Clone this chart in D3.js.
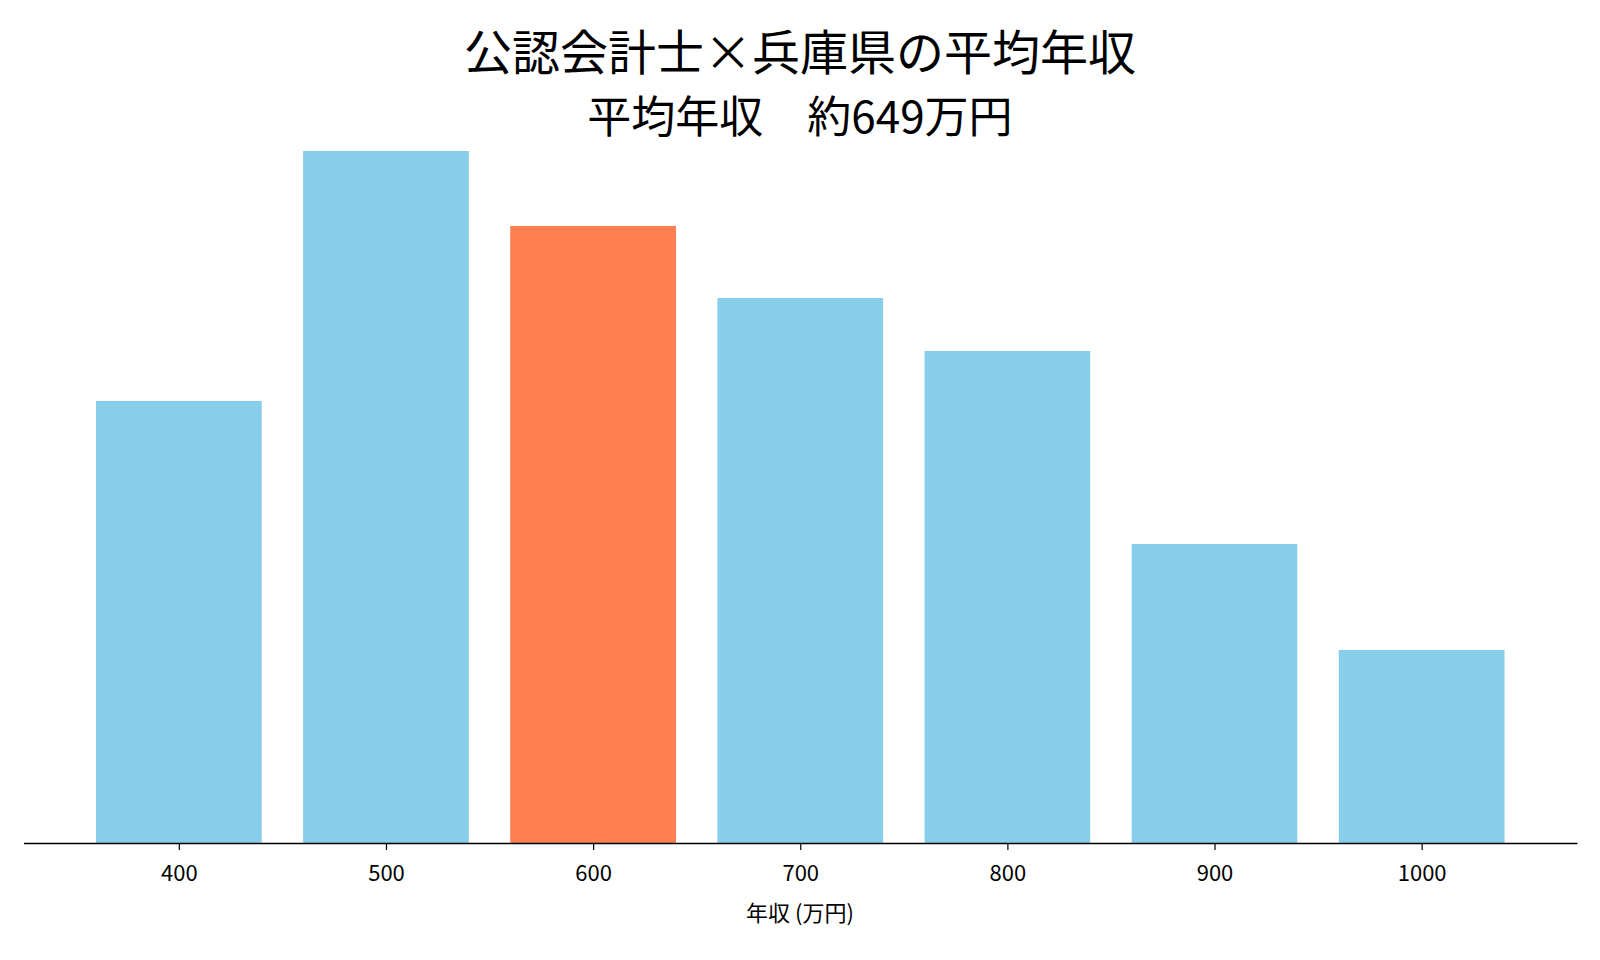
<!DOCTYPE html>
<html><head><meta charset="utf-8">
<script src="https://cdn.jsdelivr.net/npm/d3@7"></script>
<style>body{margin:0;background:#fff;font-family:"Noto Sans CJK JP","Noto Sans",sans-serif;}</style>
</head><body>
<svg id="chart" width="1600" height="960"></svg>
<script>
var incomes = [400, 500, 600, 700, 800, 900, 1000];
var counts = [442, 692, 617, 545, 492, 299, 193];
var highlight = 600;
var titleText = "公認会計士×兵庫県の平均年収";
var subtitleText = "平均年収　約649万円";

var svg = d3.select("#chart");
var x = d3.scaleLinear().domain([325, 1075]).range([23.5, 1577]);
var y = d3.scaleLinear().domain([0, 692]).range([843, 151]);
var barW = (x(500) - x(400)) * 0.8;

svg.selectAll("rect.bar")
    .data(incomes)
    .enter()
    .append("rect")
    .attr("class", "bar")
    .attr("x", function(d) { return x(d) - barW / 2; })
    .attr("width", barW)
    .attr("y", function(d, i) { return y(counts[i]); })
    .attr("height", function(d, i) { return y(0) - y(counts[i]); })
    .attr("fill", function(d) { return d == highlight ? "#ff7f50" : "#87ceeb"; });

var axis = svg.append("g")
    .attr("transform", "translate(0," + y(0) + ")")
    .call(d3.axisBottom(x).tickValues(incomes).tickSize(7).tickSizeOuter(0).tickFormat(d3.format("d")));
axis.select(".domain").attr("stroke", "#000").attr("stroke-width", 1.5);
axis.selectAll(".tick line").attr("stroke", "#000").attr("stroke-width", 1.2);
axis.selectAll(".tick text").attr("font-size", 22).attr("dy", "1.25em")
    .attr("font-family", "'Noto Sans CJK JP', sans-serif").attr("fill", "#000");

svg.append("text").attr("x", 800).attr("y", 921).attr("text-anchor", "middle")
    .attr("font-size", 22).text("年収 (万円)");
svg.append("text").attr("x", 800).attr("y", 70).attr("text-anchor", "middle")
    .attr("font-size", 48).text(titleText);
svg.append("text").attr("x", 800).attr("y", 133).attr("text-anchor", "middle")
    .attr("font-size", 44).text(subtitleText);
</script>
</body></html>
